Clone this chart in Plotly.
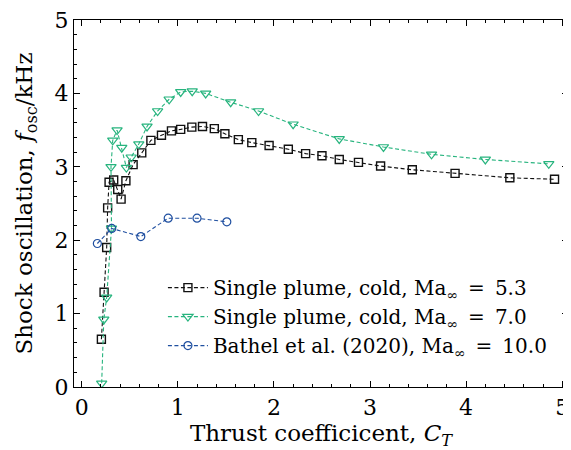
import plotly.graph_objects as go

# thrust coefficient / shock oscillation frequency
ct_53 = [0.205, 0.233, 0.26, 0.27, 0.285, 0.333, 0.375, 0.41, 0.46, 0.535, 0.625, 0.72,
         0.83, 0.934, 1.03, 1.146, 1.257, 1.38, 1.49, 1.63, 1.77, 1.95, 2.15, 2.33, 2.50,
         2.68, 2.88, 3.11, 3.44, 3.885, 4.455, 4.92]
f_53 = [0.65, 1.29, 1.90, 2.44, 2.79, 2.82, 2.69, 2.56, 2.81, 3.03, 3.19, 3.36,
        3.43, 3.49, 3.51, 3.54, 3.55, 3.52, 3.45, 3.37, 3.33, 3.29, 3.24, 3.18, 3.15,
        3.10, 3.06, 3.01, 2.96, 2.91, 2.85, 2.83]

ct_70 = [0.208, 0.23, 0.26, 0.31, 0.305, 0.323, 0.368, 0.417, 0.465, 0.515, 0.594, 0.68,
         0.79, 0.91, 1.03, 1.15, 1.29, 1.55, 1.84, 2.2, 2.68, 3.14, 3.64, 4.2, 4.86]
f_70 = [0.05, 0.92, 1.22, 2.16, 3.0, 3.36, 3.5, 3.26, 2.99, 3.13, 3.31, 3.55,
        3.76, 3.92, 4.02, 4.03, 4.0, 3.88, 3.76, 3.58, 3.38, 3.27, 3.17, 3.10, 3.04]

ct_bathel = [0.163, 0.3125, 0.615, 0.90, 1.20, 1.51]
f_bathel = [1.955, 2.16, 2.05, 2.30, 2.30, 2.25]

sp = "\u2002"
names = ["Single plume, cold, Ma<sub>∞</sub>" + sp + "=" + sp + "5.3",
         "Single plume, cold, Ma<sub>∞</sub>" + sp + "=" + sp + "7.0",
         "Bathel et al. (2020), Ma<sub>∞</sub>" + sp + "=" + sp + "10.0"]

font = "DejaVu Serif, serif"
dash = "4px,2.5px"

fig = go.Figure()
fig.add_trace(go.Scatter(x=ct_53, y=f_53, name=names[0], mode="lines+markers",
                         line=dict(color="#111111", width=1.1, dash=dash),
                         marker=dict(symbol="square-open", size=8, color="#111111",
                                     line=dict(width=1.4))))
fig.add_trace(go.Scatter(x=ct_70, y=f_70, name=names[1], mode="lines+markers",
                         line=dict(color="#27b47e", width=1.1, dash=dash),
                         marker=dict(symbol="triangle-down-open", size=9, color="#27b47e",
                                     line=dict(width=1.2))))
fig.add_trace(go.Scatter(x=ct_bathel, y=f_bathel, name=names[2], mode="lines+markers",
                         line=dict(color="#1f4fa0", width=1.1, dash=dash),
                         marker=dict(symbol="circle-open", size=8, color="#1f4fa0",
                                     line=dict(width=1.2))))

axis_common = dict(showline=True, linecolor="black", linewidth=1.2, mirror="allticks",
                   ticks="inside", ticklen=6, tickwidth=1.1, tickcolor="black",
                   showgrid=False, zeroline=False, automargin=False,
                   ticklabeloverflow="allow",
                   tickfont=dict(size=22, color="black", family=font),
                   minor=dict(ticks="inside", ticklen=3, tickwidth=1, tickcolor="black",
                              dtick=0.2, showgrid=False))

fig.update_xaxes(range=[-0.08, 5.06], dtick=1, tick0=0,
                 title=dict(text="Thrust coefficicent, <i>C<sub>T</sub></i>",
                            font=dict(size=23, family=font, color="black")),
                 **axis_common)
fig.update_yaxes(range=[0, 5], dtick=1, tick0=0,
                 title=dict(text="Shock oscillation, <i>f</i><sub>osc</sub>/kHz",
                            font=dict(size=23, family=font, color="black")),
                 **axis_common)

# page body adds an 8px offset, so the figure is sized to fit the window
fig.update_layout(width=563, height=442,
                  margin=dict(l=66, r=3, t=12, b=63),
                  plot_bgcolor="white", paper_bgcolor="white",
                  font=dict(family=font, color="black"),
                  legend=dict(x=0.18, y=0.324, xanchor="left", yanchor="top",
                              bgcolor="rgba(0,0,0,0)", font=dict(size=20, family=font),
                              itemwidth=40, tracegroupgap=0))

fig.write_html("out.html")
